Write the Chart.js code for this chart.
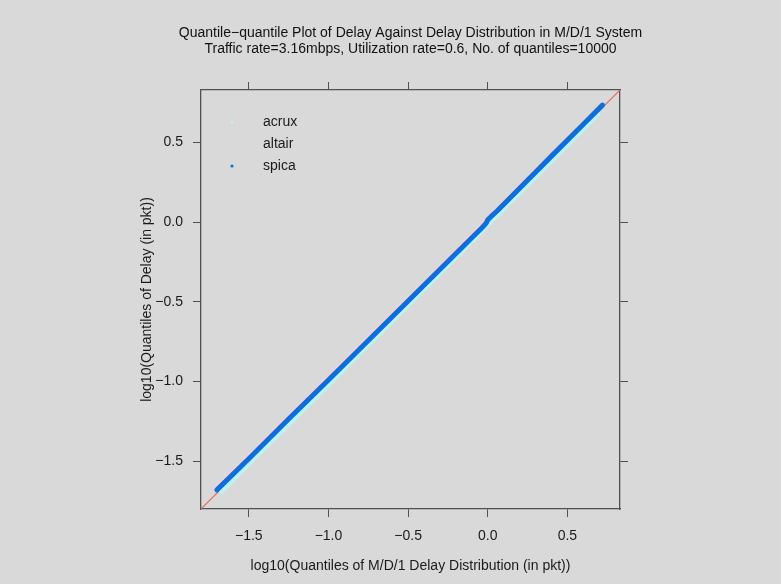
<!DOCTYPE html>
<html>
<head>
<meta charset="utf-8">
<script src="https://cdn.jsdelivr.net/npm/chart.js@4/dist/chart.umd.min.js"></script>
<style>
  html, body { margin: 0; padding: 0; background: #d9d9d9; }
  #wrap { width: 781px; height: 584px; }
</style>
</head>
<body>
<div id="wrap"><canvas id="qq" width="781" height="584"></canvas></div>
<script>
// Axis limits and tick positions (log10 scale values)
const axisMin = -1.8;
const axisMax = 0.83;
const tickVals = [-1.5, -1.0, -0.5, 0.0, 0.5];

const spicaX = [-1.70, -1.50, -1.25, -1.00, -0.75, -0.50, -0.25, -0.10, -0.03, -0.01, 0.00, 0.02, 0.06, 0.20, 0.40, 0.60, 0.72];
const spicaY = [-1.68, -1.485, -1.235, -0.99, -0.742, -0.495, -0.247, -0.098, -0.028, -0.005, 0.015, 0.035, 0.072, 0.214, 0.415, 0.615, 0.735];

const acruxX = [-1.68, -1.50, -1.25, -1.00, -0.75, -0.50, -0.25, -0.05, 0.00, 0.05, 0.20, 0.40, 0.60, 0.70];
const acruxY = [-1.70, -1.515, -1.268, -1.018, -0.768, -0.518, -0.268, -0.068, -0.012, 0.036, 0.186, 0.386, 0.588, 0.69];

const altairX = [-1.71, -1.50, -1.25, -1.00, -0.75, -0.50, -0.25, 0.00, 0.20, 0.40, 0.60, 0.71];
const altairY = [-1.672, -1.472, -1.224, -0.978, -0.73, -0.482, -0.235, 0.016, 0.222, 0.422, 0.621, 0.731];

const seriesNames = ['acrux', 'altair', 'spica'];
const seriesColors = ['#bff3f1', '#f1d1ee', '#0d6fde'];

function pairs(xs, ys) {
    return xs.map((x, i) => ({ x: x, y: ys[i] }));
}

const fmtTick = v => (v < 0 ? '\u2212' : '') + Math.abs(v).toFixed(1);

Chart.defaults.font.family = '"Liberation Sans", Arial, sans-serif';
Chart.defaults.font.size = 13;
Chart.defaults.color = '#1a1a1a';

// grey page background
const bgPlugin = {
    id: 'bg',
    beforeDraw(chart) {
        const c = chart.ctx;
        c.save();
        c.fillStyle = '#d9d9d9';
        c.fillRect(0, 0, chart.width, chart.height);
        c.restore();
    }
};

// legend inside the panel, top-left
const innerLegend = {
    id: 'innerLegend',
    afterDatasetsDraw(chart) {
        const c = chart.ctx;
        const a = chart.chartArea;
        c.save();
        c.font = '14px "Liberation Sans", Arial, sans-serif';
        c.textBaseline = 'middle';
        seriesNames.forEach((name, i) => {
            const y = a.top + 32 + i * 22;
            c.fillStyle = seriesColors[i];
            c.beginPath();
            c.arc(a.left + 31, y, 1.6, 0, Math.PI * 2);
            c.fill();
            c.fillStyle = '#1a1a1a';
            c.fillText(name, a.left + 62, y);
        });
        c.restore();
    }
};

function setTicks(scale) {
    scale.ticks = tickVals.map(v => ({ value: v }));
}

const edge = { display: true, color: '#505050', width: 1.3 };
const tickGrid = { drawOnChartArea: false, drawTicks: true, tickLength: 8, tickColor: '#505050', color: '#505050' };

new Chart(document.getElementById('qq'), {
    type: 'scatter',
    data: {
        datasets: [
            {
                label: 'y = x',
                data: [{ x: axisMin, y: axisMin }, { x: axisMax, y: axisMax }],
                showLine: true,
                borderColor: '#ea5f55',
                borderWidth: 1.1,
                pointRadius: 0,
                order: 4
            },
            {
                label: seriesNames[0],
                data: pairs(acruxX, acruxY),
                showLine: true,
                borderColor: seriesColors[0],
                borderWidth: 5,
                pointRadius: 0,
                order: 3
            },
            {
                label: seriesNames[1],
                data: pairs(altairX, altairY),
                showLine: true,
                borderColor: seriesColors[1],
                borderWidth: 5,
                pointRadius: 0,
                order: 2
            },
            {
                label: seriesNames[2],
                data: pairs(spicaX, spicaY),
                showLine: true,
                borderColor: seriesColors[2],
                borderWidth: 5,
                borderCapStyle: 'round',
                borderJoinStyle: 'round',
                pointRadius: 0,
                order: 1
            }
        ]
    },
    options: {
        responsive: false,
        animation: false,
        layout: { padding: { left: 40, right: 0, top: 0, bottom: 0 } },
        plugins: {
            legend: { display: false },
            tooltip: { enabled: false },
            title: {
                display: true,
                text: [
                    'Quantile\u2212quantile Plot of Delay Against Delay Distribution in M/D/1 System',
                    'Traffic rate=3.16mbps, Utilization rate=0.6, No. of quantiles=10000'
                ],
                color: '#111',
                font: { size: 14, weight: 'normal', lineHeight: 16 / 14 },
                padding: { top: 25, bottom: 0 }
            }
        },
        scales: {
            x: {
                type: 'linear',
                position: 'bottom',
                min: axisMin,
                max: axisMax,
                afterBuildTicks: setTicks,
                afterFit: s => { s.height = 75; },
                border: edge,
                grid: tickGrid,
                ticks: { callback: fmtTick, padding: 11, maxRotation: 0, font: { size: 14 } },
                title: {
                    display: true,
                    text: 'log10(Quantiles of M/D/1 Delay Distribution (in pkt))',
                    font: { size: 14 },
                    padding: { top: 9, bottom: 9 }
                }
            },
            x2: {
                type: 'linear',
                position: 'top',
                min: axisMin,
                max: axisMax,
                afterBuildTicks: setTicks,
                afterFit: s => { s.height = 33; },
                border: edge,
                grid: tickGrid,
                ticks: { display: false }
            },
            y: {
                type: 'linear',
                position: 'left',
                min: axisMin,
                max: axisMax,
                afterBuildTicks: setTicks,
                afterFit: s => { s.width = 161; },
                border: edge,
                grid: tickGrid,
                ticks: { callback: fmtTick, padding: 10, font: { size: 14 } },
                title: {
                    display: true,
                    text: 'log10(Quantiles of Delay (in pkt))',
                    font: { size: 14 },
                    padding: { top: 99, bottom: 99 }
                }
            },
            y2: {
                type: 'linear',
                position: 'right',
                min: axisMin,
                max: axisMax,
                afterBuildTicks: setTicks,
                afterFit: s => { s.width = 161; },
                border: edge,
                grid: tickGrid,
                ticks: { display: false }
            }
        }
    },
    plugins: [bgPlugin, innerLegend]
});
</script>
</body>
</html>
